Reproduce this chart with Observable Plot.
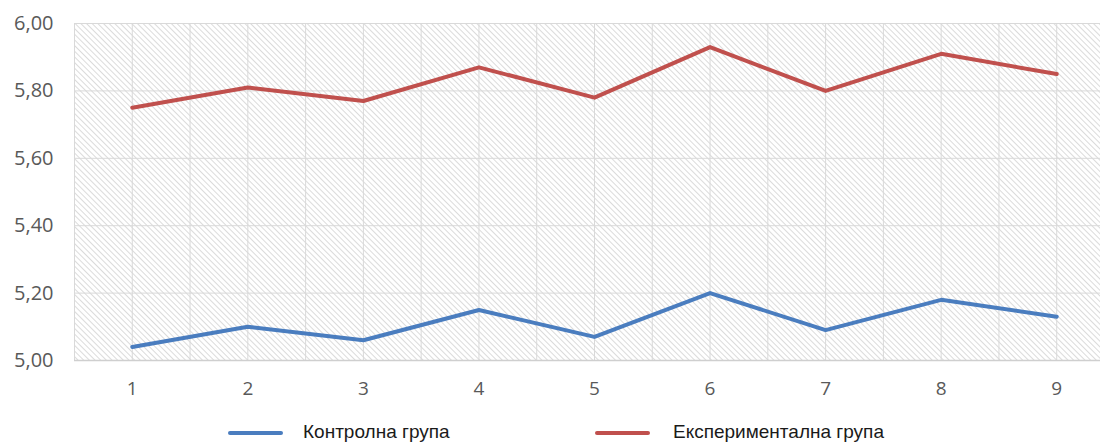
<!DOCTYPE html>
<html>
<head>
<meta charset="utf-8">
<script src="https://cdn.jsdelivr.net/npm/d3@7"></script>
<script src="https://cdn.jsdelivr.net/npm/@observablehq/plot@0.6"></script>
<style>
  html, body { margin: 0; padding: 0; background: #fff; overflow: hidden; width: 1100px; }
  #chart { width: 1116px; }
  #legend { position: relative; height: 45px; font-family: "Liberation Sans", Arial, sans-serif; font-size: 19px; color: #1a1a1a; }
  .sw { position: absolute; height: 4px; border-radius: 2px; top: 31px; }
  .lt { position: absolute; top: 21px; line-height: 22px; white-space: nowrap; }
</style>
</head>
<body>
<div id="chart"></div>
<div id="legend"></div>
<script>
const categories = [1, 2, 3, 4, 5, 6, 7, 8, 9];
const control = [5.04, 5.10, 5.06, 5.15, 5.07, 5.20, 5.09, 5.18, 5.13];
const experimental = [5.75, 5.81, 5.77, 5.87, 5.78, 5.93, 5.80, 5.91, 5.85];
const yTicks = [5.0, 5.2, 5.4, 5.6, 5.8, 6.0];
const seriesNames = ["Контролна група", "Експериментална група"];
const seriesColors = ["#4a7dbf", "#c0504d"];

const data = [];
categories.forEach((c, i) => {
  data.push({x: c, y: control[i], s: seriesNames[0]});
  data.push({x: c, y: experimental[i], s: seriesNames[1]});
});

const gridXs = d3.range(0.5, 9.51, 0.5);

const plot = Plot.plot({
  width: 1116,
  height: 400,
  marginLeft: 74,
  marginRight: 2,
  marginTop: 23,
  marginBottom: 40,
  style: {background: "#fff", overflow: "visible"},
  x: {domain: [0.5, 9.5]},
  y: {domain: [5.0, 6.0]},
  color: {domain: seriesNames, range: seriesColors},
  marks: [
    Plot.frame({fill: "url(#hatch)", stroke: null}),
    Plot.gridX(gridXs, {stroke: "#d9d9d9", strokeOpacity: 1, strokeWidth: 1}),
    Plot.gridY(yTicks, {stroke: "#d9d9d9", strokeOpacity: 1, strokeWidth: 1}),
    Plot.ruleY([5.0], {stroke: "#cfcfcf", strokeWidth: 1.5}),
    Plot.axisY(yTicks, {
      tickSize: 0, tickPadding: 21,
      tickFormat: d => d.toFixed(2).replace(".", ","),
      fontSize: 20, fontFamily: "Open Sans", fill: "#595959", label: null
    }),
    Plot.axisX(categories, {
      tickSize: 0, tickPadding: 21,
      tickFormat: d => String(d),
      fontSize: 19, fontFamily: "Open Sans", fill: "#595959", label: null
    }),
    Plot.line(data, {x: "x", y: "y", z: "s", stroke: "s", strokeWidth: 4, strokeLinejoin: "round", strokeLinecap: "round"})
  ]
});

const svg = d3.select(plot);
const defs = svg.insert("defs", ":first-child");
const pat = defs.append("pattern")
  .attr("id", "hatch")
  .attr("patternUnits", "userSpaceOnUse")
  .attr("width", 4).attr("height", 4)
  .attr("patternTransform", "rotate(-45)");
pat.append("rect").attr("width", 4).attr("height", 4).attr("fill", "#ffffff");
pat.append("line").attr("x1", 0).attr("y1", 0).attr("x2", 0).attr("y2", 4)
  .attr("stroke", "#cfcfcf").attr("stroke-width", 1.5);

document.getElementById("chart").appendChild(plot);

const legend = document.getElementById("legend");
const items = [
  {sx: 228, sw: 55, tx: 303},
  {sx: 595, sw: 55, tx: 673}
];
seriesNames.forEach((name, i) => {
  const sw = document.createElement("div");
  sw.className = "sw";
  sw.style.left = items[i].sx + "px";
  sw.style.width = items[i].sw + "px";
  sw.style.background = seriesColors[i];
  legend.appendChild(sw);
  const t = document.createElement("div");
  t.className = "lt";
  t.style.left = items[i].tx + "px";
  t.textContent = name;
  legend.appendChild(t);
});
</script>
</body>
</html>
